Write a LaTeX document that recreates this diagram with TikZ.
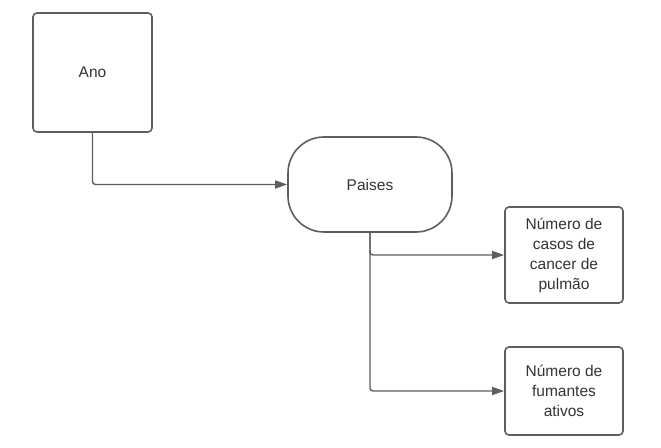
\documentclass[tikz,border=0pt]{standalone}
\usepackage{fontspec}
\setmainfont{Liberation Sans}
\usepackage{tikz}
\usetikzlibrary{positioning, shapes, arrows.meta, calc}

\definecolor{linegray}{HTML}{5E5E5E}
\definecolor{textgray}{HTML}{333333}

\begin{document}
\begin{tikzpicture}[x=1bp, y=-1bp,
        box/.style={draw=linegray, line width=1.6bp, rounded corners=4bp, align=center,
            text=textgray, font=\fontsize{15.5bp}{20bp}\selectfont, inner sep=0pt},
        flow/.style={draw=linegray, line width=1.4bp, rounded corners=3bp,
            -{Triangle[length=12bp, width=8bp]}}]
        % Fix the page
        \useasboundingbox (0,0) rectangle (661,448);

        % Draw the boxes
        \node[box, minimum width=119bp, minimum height=119bp] (ano) at (92.5,72.5) {Ano};
        \node[box, minimum width=118bp, minimum height=96bp] (casos) at (564,255) {Número de\\casos de\\cancer de\\pulmão};
        \node[box, minimum width=118bp, minimum height=88bp] (fumantes) at (564,391) {Número de\\fumantes\\ativos};

        % Draw the terminator
        \node[box, rounded corners=36bp, minimum width=164bp, minimum height=95bp] (paises) at (370,184.5) {Paises};

        % Draw the connectors
        \draw[flow] (ano.south) |- (paises.west);
        \draw[flow] (paises.south) |- (casos.west);
        \draw[flow] (paises.south) |- (fumantes.west);
    \end{tikzpicture}
\end{document}
